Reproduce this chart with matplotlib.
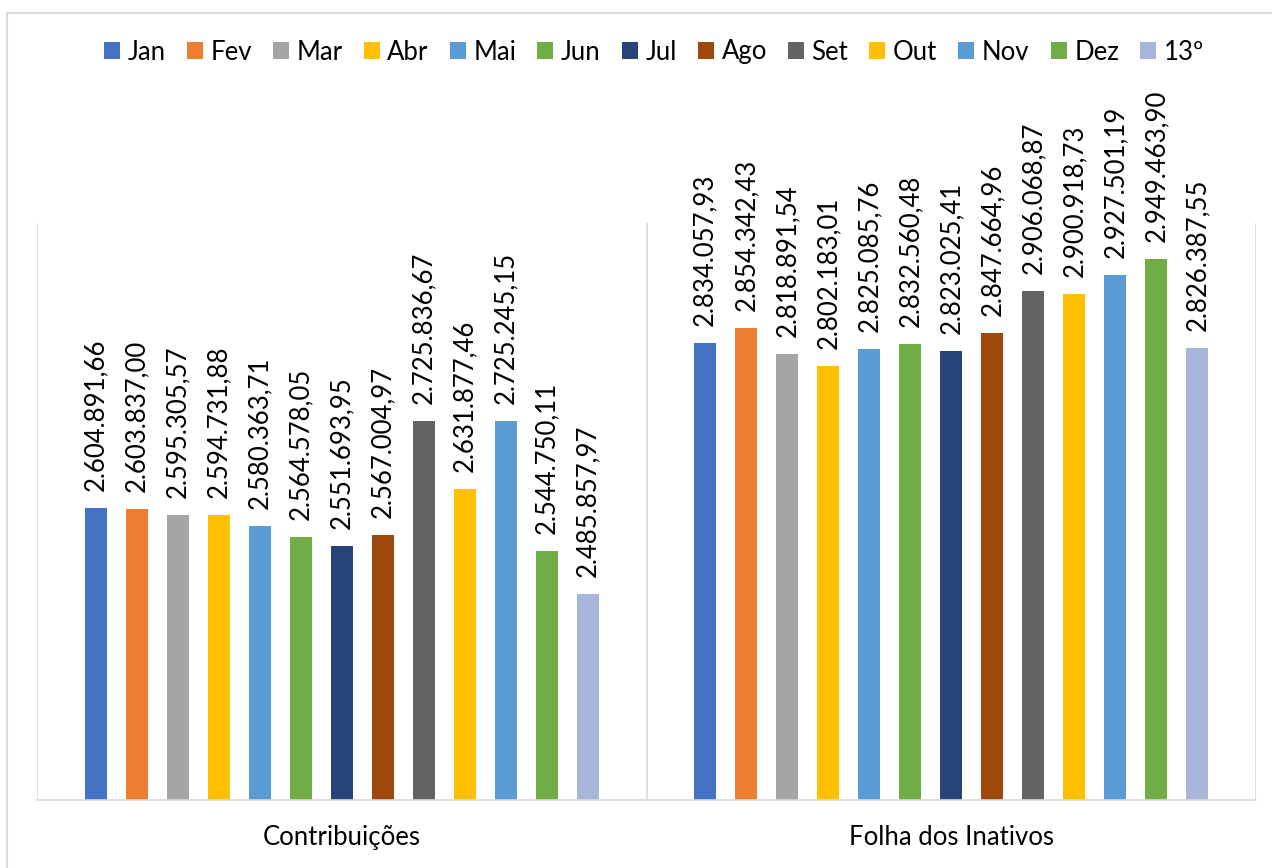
import matplotlib
matplotlib.use("Agg")
import matplotlib.pyplot as plt
from matplotlib.patches import Rectangle, Patch
import numpy as np

plt.rcParams['font.family'] = ['Lato', 'DejaVu Sans']

categories = ["Contribuições", "Folha dos Inativos"]
months = ["Jan", "Fev", "Mar", "Abr", "Mai", "Jun", "Jul", "Ago", "Set", "Out", "Nov", "Dez", "13º"]
contribuicoes = [2604891.66, 2603837.00, 2595305.57, 2594731.88, 2580363.71, 2564578.05,
                 2551693.95, 2567004.97, 2725836.67, 2631877.46, 2725245.15, 2544750.11, 2485857.97]
folha_inativos = [2834057.93, 2854342.43, 2818891.54, 2802183.01, 2825085.76, 2832560.48,
                  2823025.41, 2847664.96, 2906068.87, 2900918.73, 2927501.19, 2949463.90, 2826387.55]
colors = ["#4472C4", "#ED7D31", "#A5A5A5", "#FFC000", "#5B9BD5", "#70AD47", "#264478",
          "#9E480E", "#636363", "#FFC000", "#5B9BD5", "#70AD47", "#A9B6DC"]

def fmt_br(v):
    s = f"{v:,.2f}"
    return s.replace(",", "X").replace(".", ",").replace("X", ".")

W, H = 1272, 868
fig = plt.figure(figsize=(W / 100, H / 100), dpi=100)
ax = fig.add_axes([37 / W, 1 - 800 / H, (1256 - 37) / W, (800 - 223) / H])

n = len(months)
step = 41 / 609
width = 22 / 609
cat_x = np.arange(len(categories))
data = np.array([contribuicoes, folha_inativos])

for i, m in enumerate(months):
    xs = cat_x + (i - (n - 1) / 2) * step
    vals = data[:, i]
    ax.bar(xs, vals, width=width, color=colors[i], label=m, zorder=2)
    for x, v in zip(xs, vals):
        ax.annotate(fmt_br(v), xy=(x, v), xytext=(0, 17), textcoords="offset pixels",
                    rotation=90, ha="center", va="bottom", fontsize=18.5, color="#000000")

ax.set_ylim(2200000, 3000000)
ax.set_xlim(-0.5, 1.5)
for xv in [-0.5, 0.5, 1.5]:
    ax.axvline(xv, color="#D9D9D9", lw=1.2, zorder=1)
for s in ["top", "left", "right"]:
    ax.spines[s].set_visible(False)
ax.spines["bottom"].set_color("#D9D9D9")
ax.spines["bottom"].set_linewidth(1.2)
ax.set_yticks([])
ax.set_xticks(cat_x)
ax.set_xticklabels(categories, fontsize=18.5)
ax.tick_params(axis="x", length=0, pad=18)

handles = [Patch(facecolor=c, label=m) for c, m in zip(colors, months)]
fig.legend(handles=handles, loc="center", bbox_to_anchor=(654 / W, 1 - 52 / H), ncol=n,
           frameon=False, fontsize=18.5, handlelength=0.62, handleheight=0.62,
           handletextpad=0.3, columnspacing=0.82, borderaxespad=0, borderpad=0)

fig.patches.append(Rectangle((7 / W, -0.1), 1.2, 1 - 13 / H + 0.1, transform=fig.transFigure,
                             fill=False, edgecolor="#D9D9D9", lw=1.5))

fig.savefig("out.png", dpi=100)
